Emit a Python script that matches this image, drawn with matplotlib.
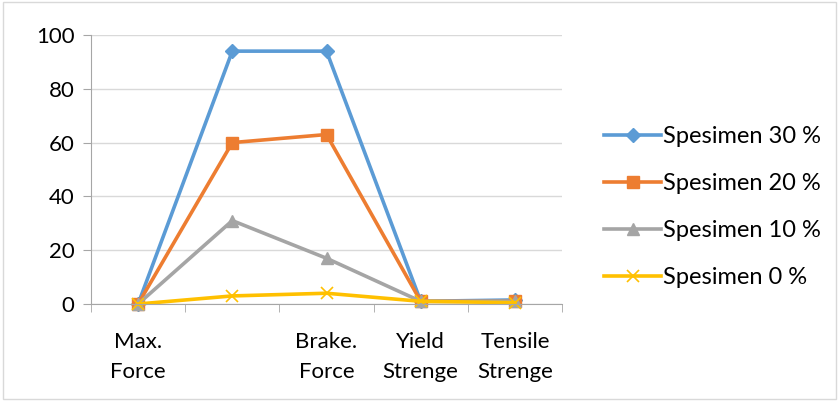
import matplotlib
matplotlib.use("Agg")
import matplotlib.pyplot as plt
from matplotlib.patches import Rectangle

plt.rcParams['font.family'] = ['Lato', 'DejaVu Sans']

categories = ["Max.\nForce", "", "Brake.\nForce", "Yield\nStrenge", "Tensile\nStrenge"]
spesimen_30 = [0, 94, 94, 1, 1.5]
spesimen_20 = [0, 60, 63, 1, 1]
spesimen_10 = [0, 31, 17, 1, 1]
spesimen_0 = [0, 3, 4, 1, 0.5]
labels = ["Spesimen 30 %", "Spesimen 20 %", "Spesimen 10 %", "Spesimen 0 %"]

fig = plt.figure(figsize=(8.39, 4.01), dpi=100)
ax = fig.add_axes([91 / 839, 1 - 304 / 401, (562 - 91) / 839, (304 - 35) / 401])

# thin frame round the whole chart
fig.patches.append(Rectangle((0.004, 0.004), 0.992, 0.99, transform=fig.transFigure,
                             fill=False, edgecolor="#d9d9d9", linewidth=1))

x = list(range(len(categories)))
series = [
    (spesimen_30, "#5b9bd5", "D", 7),
    (spesimen_20, "#ed7d31", "s", 8),
    (spesimen_10, "#a5a5a5", "^", 8),
    (spesimen_0, "#ffc000", "x", 9),
]
for (vals, col, mk, ms), lab in zip(series, labels):
    kw = dict(markeredgecolor=col, markerfacecolor=col)
    if mk == "x":
        kw["markeredgewidth"] = 1.2
    ax.plot(x, vals, color=col, linewidth=2.6, marker=mk, markersize=ms,
            label=lab, clip_on=False, **kw)

ax.set_xlim(-0.5, len(categories) - 0.5)
ax.set_ylim(0, 100)
ax.set_yticks(range(0, 101, 20))
ax.grid(axis="y", color="#d9d9d9", linewidth=1)
ax.set_axisbelow(True)

ax.set_xticks(x)
ax.set_xticklabels(categories, fontsize=16, linespacing=1.65)
ax.set_xticks([i - 0.5 for i in range(len(categories) + 1)], minor=True)
ax.tick_params(axis="x", which="major", length=0, pad=20)
ax.tick_params(axis="x", which="minor", length=6, color="#a6a6a6", direction="out")
ax.tick_params(axis="y", length=6, color="#a6a6a6", labelsize=16, pad=6)

for side in ("top", "right"):
    ax.spines[side].set_visible(False)
ax.spines["left"].set_color("#a6a6a6")
ax.spines["bottom"].set_color("#a6a6a6")

ax.legend(loc="center left", bbox_to_anchor=(1.07, 0.36), frameon=False,
          fontsize=17, handlelength=2.4, labelspacing=1.1, handletextpad=0.1,
          borderaxespad=0)

fig.savefig("out.png", dpi=100)
